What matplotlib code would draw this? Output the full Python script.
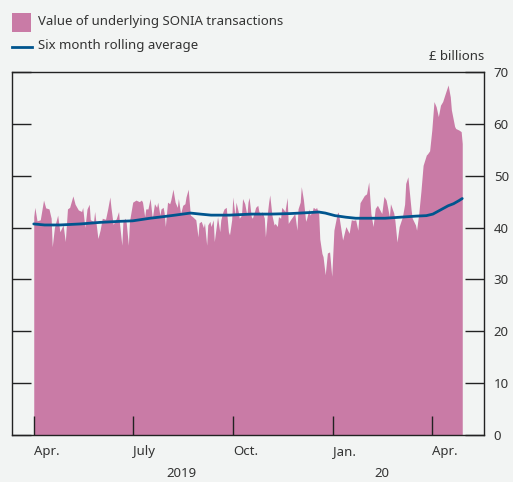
import numpy as np
import matplotlib
matplotlib.use("Agg")
import matplotlib.pyplot as plt
import matplotlib.dates as mdates
from matplotlib.patches import Rectangle
from matplotlib.lines import Line2D
import matplotlib.transforms as mtransforms

plt.rcParams['font.family'] = ['Noto Sans', 'DejaVu Sans']

START = np.datetime64('2019-04-01')

# Daily SONIA transaction values (£ billions), day offsets from 1 Apr 2019
day_offsets = [0, 1, 3, 6, 9, 11, 14, 16, 17, 19, 22, 24, 27, 29, 31, 33, 36, 38, 41, 44,
               45, 47, 49, 51, 52, 55, 56, 59, 61, 63, 66, 68, 70, 71, 73, 76, 78, 79, 81, 82,
               84, 85, 87, 88, 91, 94, 97, 99, 100, 102, 103, 105, 107, 109, 111, 113, 114, 116, 117, 119,
               120, 121, 123, 125, 126, 128, 130, 132, 133, 135, 137, 139, 140, 142, 144, 146, 149, 151, 152, 154,
               156, 157, 159, 160, 162, 163, 165, 166, 168, 169, 171, 172, 174, 175, 177, 179, 180, 182, 183, 185,
               186, 188, 189, 191, 192, 194, 196, 197, 198, 200, 201, 203, 204, 206, 207, 209, 210, 212, 213, 215,
               216, 217, 219, 221, 222, 224, 225, 227, 228, 230, 231, 233, 234, 236, 237, 239, 240, 242, 243, 245,
               246, 248, 250, 251, 253, 254, 256, 257, 259, 260, 262, 263, 265, 266, 268, 270, 272, 274, 276, 279,
               280, 284, 287, 290, 292, 294, 296, 298, 300, 304, 306, 308, 310, 312, 314, 316, 318, 320, 322, 324,
               327, 328, 331, 332, 334, 336, 339, 341, 342, 344, 347, 348, 351, 352, 354, 356, 358, 361, 362, 364,
               366, 368, 370, 372, 374, 376, 378, 381, 383, 384, 387, 388, 391, 393, 394]
sonia_values = [42.1, 43.9, 41.3, 41.5, 45.3, 43.8, 43.6, 41.8, 36.3, 40.0, 42.4, 39.2, 40.5, 37.3, 43.6, 43.9, 46.1, 44.5, 43.4, 43.1,
                43.9, 40.0, 43.6, 44.5, 41.5, 41.2, 43.1, 37.9, 39.5, 41.8, 41.6, 43.6, 45.9, 43.9, 40.6, 41.8, 43.1, 40.5, 36.6, 41.2,
                41.8, 41.0, 36.6, 41.2, 44.9, 45.3, 45.0, 45.3, 44.9, 42.1, 43.6, 43.6, 45.6, 41.8, 44.6, 43.9, 44.9, 42.4, 43.6, 43.9,
                42.7, 40.2, 44.9, 44.6, 45.3, 47.4, 44.9, 43.9, 45.6, 42.7, 44.3, 44.6, 45.9, 47.4, 42.4, 42.1, 41.5, 38.2, 40.9, 41.2,
                40.0, 40.9, 36.6, 40.5, 41.2, 40.2, 41.5, 37.3, 40.5, 42.1, 39.2, 41.5, 43.1, 43.6, 43.9, 39.2, 38.6, 41.5, 45.9, 42.4,
                44.9, 43.1, 41.8, 42.4, 45.6, 44.6, 42.4, 44.9, 45.8, 42.1, 41.8, 43.1, 43.9, 44.3, 43.1, 42.4, 43.1, 41.8, 38.2, 43.1,
                44.9, 46.3, 42.4, 40.5, 40.8, 40.2, 42.1, 41.8, 43.9, 43.4, 43.1, 45.8, 40.8, 41.5, 41.8, 42.4, 42.7, 39.5, 43.6, 44.9,
                47.9, 45.3, 41.2, 41.8, 43.6, 42.4, 43.1, 43.9, 43.6, 43.9, 42.7, 37.8, 35.0, 34.4, 30.9, 35.1, 35.3, 30.6, 39.5, 42.7,
                43.0, 37.6, 40.2, 38.9, 41.5, 41.4, 41.5, 39.5, 44.8, 46.2, 46.5, 48.8, 42.7, 40.2, 43.7, 44.3, 43.5, 42.7, 46.0, 45.3,
                42.1, 44.6, 42.8, 41.5, 37.2, 40.2, 42.1, 44.5, 48.5, 49.8, 43.4, 41.8, 40.5, 39.5, 42.7, 47.0, 52.0, 54.0, 54.2, 54.8,
                58.8, 64.3, 63.3, 61.4, 63.6, 64.3, 65.6, 67.5, 65.2, 62.7, 59.5, 59.1, 58.8, 58.5, 56.2]

# Six month rolling average
avg_offsets = [0, 10, 24, 43, 61, 79, 91, 107, 119, 130, 144, 153, 163, 180, 200, 218, 236, 254, 262, 268,
               277, 287, 296, 310, 323, 337, 351, 361, 367, 374, 381, 386, 391, 394]
avg_values = [40.7, 40.5, 40.5, 40.7, 41.0, 41.2, 41.3, 41.8, 42.1, 42.4, 42.8, 42.6, 42.4, 42.4, 42.6, 42.6, 42.7, 42.9, 43.0, 42.8,
              42.3, 42.0, 41.8, 41.8, 41.8, 42.0, 42.2, 42.3, 42.6, 43.4, 44.2, 44.6, 45.2, 45.6]

tick_dates = ['2019-04-01', '2019-07-01', '2019-10-01', '2020-01-01', '2020-04-01']
tick_labels = ['Apr.', 'July', 'Oct.', 'Jan.', 'Apr.']
year_labels = ['2019', '20']
year_label_dates = ['2019-08-15', '2020-02-15']
y_ticks = [0, 10, 20, 30, 40, 50, 60, 70]

BG = '#f2f4f3'
PINK = '#c97ba6'
BLUE = '#00558e'
TXT = '#333333'

dates = (START + np.array(day_offsets, dtype='timedelta64[D]')).astype('datetime64[ms]').astype(object)
adates = (START + np.array(avg_offsets, dtype='timedelta64[D]')).astype('datetime64[ms]').astype(object)

W, H = 513, 482
fig = plt.figure(figsize=(W / 100, H / 100), dpi=100, facecolor=BG)
ax = fig.add_axes([12 / W, 1 - 435 / H, (484 - 12) / W, (435 - 72) / H], facecolor=BG)

ax.fill_between(dates, 0, sonia_values, color=PINK, linewidth=0)
ax.plot(adates, avg_values, color=BLUE, linewidth=2.0, solid_capstyle='round')

ax.set_ylim(0, 70)
ax.set_xlim(np.datetime64('2019-03-12').astype(object), np.datetime64('2020-05-19').astype(object))

for s in ax.spines.values():
    s.set_color('#222222')
    s.set_linewidth(1.0)

ax.set_yticks(y_ticks)
ax.yaxis.set_ticks_position('both')
ax.tick_params(axis='y', which='both', direction='in', length=14, width=1, color='#222222',
               left=True, right=True, labelleft=False, labelright=True, labelsize=9.5,
               labelcolor=TXT, pad=7)

tick_pos = [np.datetime64(d).astype('datetime64[ms]').astype(object) for d in tick_dates]
ax.set_xticks(tick_pos)
ax.set_xticklabels(tick_labels)
ax.tick_params(axis='x', direction='in', length=14, width=1, color='#222222',
               labelsize=9.5, labelcolor=TXT, pad=7, top=False)
for lab in ax.get_xticklabels():
    lab.set_horizontalalignment('left')

trans = mtransforms.blended_transform_factory(ax.transData, ax.transAxes)
for lbl, d in zip(year_labels, year_label_dates):
    ax.text(np.datetime64(d).astype('datetime64[ms]').astype(object), -0.107, lbl,
            transform=trans, ha='center', va='center', fontsize=9.5, color=TXT)

# Legend
fig.add_artist(Rectangle((12 / W, 1 - 32 / H), 19 / W, 19 / H, transform=fig.transFigure,
                         facecolor=PINK, edgecolor='none'))
fig.text(38 / W, 1 - 22 / H, 'Value of underlying SONIA transactions', ha='left', va='center',
         fontsize=9.5, color=TXT)
fig.add_artist(Line2D([12 / W, 32 / W], [1 - 47 / H, 1 - 47 / H], transform=fig.transFigure,
                      color=BLUE, linewidth=2.0))
fig.text(38 / W, 1 - 46 / H, 'Six month rolling average', ha='left', va='center',
         fontsize=9.5, color=TXT)
fig.text(484 / W, 1 - 57 / H, '£ billions', ha='right', va='center', fontsize=9.5, color=TXT)

fig.savefig('out.png', dpi=100, facecolor=BG)
